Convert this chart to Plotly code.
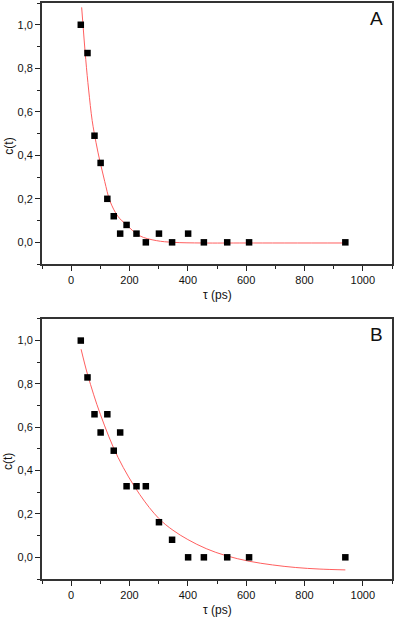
import plotly.graph_objects as go

# ---- data ----
tau_ps = [33, 56, 80, 101, 124, 146, 168, 190, 224, 256, 301, 346, 401, 455, 535, 610, 940]
c_A = [1.0, 0.87, 0.49, 0.365, 0.2, 0.12, 0.04, 0.08, 0.04, 0.0, 0.04, 0.0, 0.04, 0.0, 0.0, 0.0, 0.0]
c_B = [1.0, 0.83, 0.66, 0.576, 0.66, 0.492, 0.576, 0.328, 0.328, 0.328, 0.162, 0.081, 0.0, 0.0, 0.0, 0.0, 0.0]

fitA_x = [36, 50, 60, 72, 85, 99, 115, 133, 160, 190, 235, 292, 350, 450, 600, 940]
fitA_y = [1.08, 0.84, 0.70, 0.56, 0.46, 0.37, 0.28, 0.19, 0.12, 0.08, 0.03, 0.008, 0.0, -0.003, -0.003, -0.003]

fitB_x = [34, 57, 100, 161, 235, 300, 349, 400, 463, 530, 610, 690, 770, 850, 940]
fitB_y = [0.96, 0.84, 0.66, 0.46, 0.29, 0.18, 0.125, 0.082, 0.04, 0.008, -0.018, -0.035, -0.047, -0.054, -0.058]

panel_labels = ["A", "B"]
x_title = "τ (ps)"
y_title = "c(t)"

fig = go.Figure()
RED = "rgb(255,95,95)"
for fx, fy, c, ax in [(fitA_x, fitA_y, c_A, ""), (fitB_x, fitB_y, c_B, "2")]:
    fig.add_trace(go.Scatter(x=fx, y=fy, mode="lines", line=dict(color=RED, width=1, shape="spline"),
                             xaxis="x" + ax, yaxis="y" + ax, showlegend=False, hoverinfo="skip"))
    fig.add_trace(go.Scatter(x=tau_ps, y=c, mode="markers",
                             marker=dict(symbol="square", size=6.5, color="black"),
                             xaxis="x" + ax, yaxis="y" + ax, showlegend=False))

FONT = "Liberation Sans, Arial, sans-serif"
common_x = dict(range=[-100, 1100], tickmode="linear", tick0=0, dtick=200, ticks="outside", ticklen=5,
                tickwidth=1.2, tickcolor="#222", showline=True, linecolor="#333", linewidth=1.8, mirror=True,
                showgrid=False, zeroline=False, tickfont=dict(size=11, color="#111", family=FONT),
                minor=dict(dtick=100, tick0=0, ticks="outside", ticklen=3, tickcolor="#222", showgrid=False))
common_y = dict(range=[-0.1, 1.1], tickmode="linear", tick0=0, dtick=0.2, ticks="outside", ticklen=5,
                tickwidth=1.2, tickcolor="#222", showline=True, linecolor="#333", linewidth=1.8, mirror=True,
                showgrid=False, zeroline=False, tickformat=".1f", tickfont=dict(size=11, color="#111", family=FONT),
                minor=dict(dtick=0.1, tick0=0, ticks="outside", ticklen=3, tickcolor="#222", showgrid=False))

H = 618
top, bottom = 1, 39
ph = H - top - bottom
def py(pix):
    return (H - bottom - pix) / ph
def px(pix):
    return (pix - 42) / 352

fig.update_layout(
    width=395, height=618, margin=dict(l=42, r=1, t=1, b=39),
    paper_bgcolor="white", plot_bgcolor="white", separators=", ",
    font=dict(family=FONT, color="#111"),
    xaxis=dict(common_x, domain=[0, 1], anchor="y"),
    yaxis=dict(common_y, domain=[py(263), 1], anchor="x"),
    xaxis2=dict(common_x, domain=[0, 1], anchor="y2"),
    yaxis2=dict(common_y, domain=[0, py(318)], anchor="x2"),
)

ann = []
for lab, ytop, ybot in [(panel_labels[0], 1, 263), (panel_labels[1], 318, 579)]:
    ann.append(dict(text=lab, xref="paper", yref="paper", x=px(378), y=py(ytop + 16), showarrow=False,
                    font=dict(size=19, family=FONT, color="#111"), xanchor="center", yanchor="middle"))
    ann.append(dict(text=x_title, xref="paper", yref="paper", x=px(219), y=py(ybot + 31), showarrow=False,
                    font=dict(size=12, family=FONT, color="#111"), xanchor="center", yanchor="middle"))
    ann.append(dict(text=y_title, xref="paper", yref="paper", x=px(8), y=py((ytop + ybot) / 2 + 13),
                    showarrow=False, textangle=-90,
                    font=dict(size=12, family=FONT, color="#111"), xanchor="center", yanchor="middle"))
fig.update_layout(annotations=ann)

fig.write_html("out.html", config={"displayModeBar": False},
               post_script="document.body.style.margin='0';document.body.style.overflow='hidden';")
